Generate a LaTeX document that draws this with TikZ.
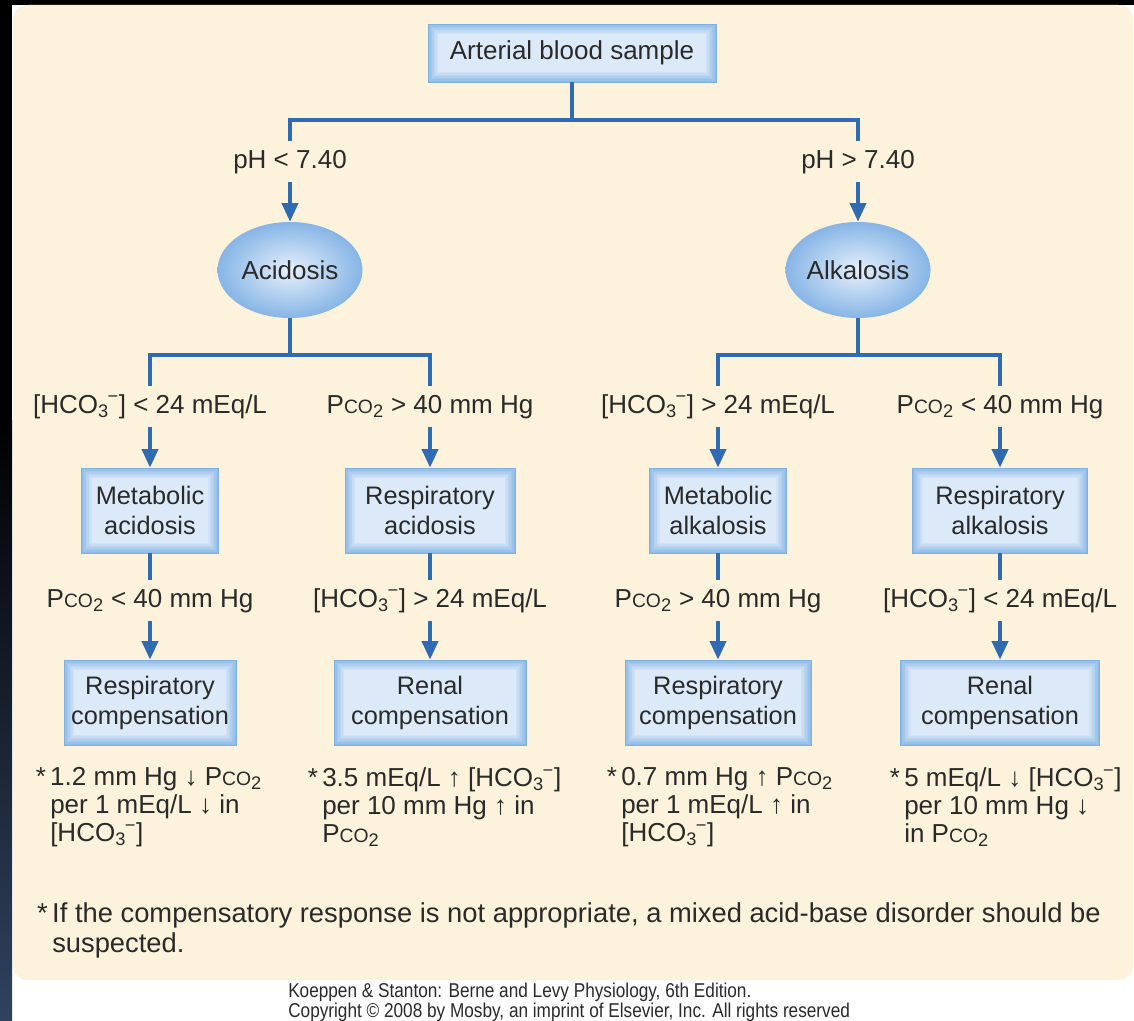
\documentclass[tikz,border=0pt]{standalone}
\usepackage{fontspec}
\setmainfont{Liberation Sans}
\newfontfamily\condfont[FakeStretch=0.86]{Liberation Sans}
\usetikzlibrary{arrows.meta,shapes.geometric}
\definecolor{panel}{HTML}{FDF2DB}
\definecolor{connc}{HTML}{2E6BB3}
\definecolor{boxin}{HTML}{DCE9F8}
\definecolor{boxout}{HTML}{8EBBE9}
\definecolor{txt}{HTML}{2A2A2A}
\definecolor{navy}{HTML}{30425F}
\definecolor{ovalin}{HTML}{E6F0FB}
\definecolor{ovalout}{HTML}{86B5E6}
\newcommand\pcox{P{\fontsize{14.5}{14.5}\selectfont CO}\textsubscript{2}}
\newcommand\hcox{[HCO\textsubscript{3}\kern-0.05em\textsuperscript{−}]}
\begin{document}
\begin{tikzpicture}[x=0.75pt,y=-0.75pt,
  txtfont/.style={font=\fontsize{19.5}{22.5}\selectfont, text=txt},
  lbl/.style={txtfont, inner xsep=2pt, inner ysep=6pt, text height=14pt, text depth=4.5pt},
  abox/.style={rectangle, font=\fontsize{19}{22.5}\selectfont, text=txt, align=center, fill=boxout, draw=boxout!85!connc, line width=0.5pt,
    minimum height=63.75pt, inner sep=2pt,
    path picture={
      \foreach \i in {0,...,7}{
        \pgfmathsetmacro\glowp{\i*100/7}
        \fill[boxin!\glowp!boxout] ([shift={(\i*1.1pt,\i*1.1pt)}]path picture bounding box.south west)
          rectangle ([shift={(-\i*1.1pt,-\i*1.1pt)}]path picture bounding box.north east);
      }
    }},
  oval/.style={ellipse, txtfont, shade, inner color=ovalin, outer color=ovalout,
    minimum width=108.75pt, minimum height=72pt, inner sep=0pt},
  cline/.style={connc, line width=3pt},
  carr/.style={cline, -{Triangle[width=12pt,length=14pt]}},
  note/.style={txtfont, font=\fontsize{19.5}{21}\selectfont, align=left, anchor=north west, inner sep=0pt}
]
\useasboundingbox (0,0) rectangle (1134,1020);
% background
\fill[black] (0,0) rectangle (1134,1020);
\fill[white] (12,5) rectangle (1134,1020);
\shade[top color=black, bottom color=navy] (0,420) rectangle (12,1020);
\fill[panel, rounded corners=11pt] (13,5) rectangle (1133,980);

% top level
\node[abox, font=\fontsize{19.5}{22.5}\selectfont, minimum width=216pt, minimum height=43.5pt] (top) at (572,53) {Arterial blood sample};
\coordinate (j0) at (572,120);
\node[lbl, anchor=base] (ph1) at (290,168) {pH < 7.40};
\node[lbl, anchor=base] (ph2) at (858,168) {pH > 7.40};
\node[oval] (acid) at (290,270) {Acidosis};
\node[oval] (alk) at (858,270) {Alkalosis};
\draw[cline] (top.south) -- (j0);
\draw[cline] (ph1.north) |- (j0) -| (ph2.north);
\draw[carr] (ph1.south) -- (acid.north);
\draw[carr] (ph2.south) -- (alk.north);

% second level
\coordinate (ja) at (290,355);
\coordinate (jb) at (858,355);
\node[lbl, anchor=base] (l1) at (150,413) {\hcox{} < 24 mEq/L};
\node[lbl, anchor=base] (l2) at (430,413) {\pcox{} > 40 mm Hg};
\node[lbl, anchor=base] (l3) at (718,413) {\hcox{} > 24 mEq/L};
\node[lbl, anchor=base] (l4) at (1000,413) {\pcox{} < 40 mm Hg};
\draw[cline] (acid.south) -- (ja);
\draw[cline] (alk.south) -- (jb);
\draw[cline] (l1.north) |- (ja) -| (l2.north);
\draw[cline] (l3.north) |- (jb) -| (l4.north);

\node[abox, minimum width=102.75pt] (b1) at (150,510.5) {Metabolic\\acidosis};
\node[abox, minimum width=127.5pt] (b2) at (430,510.5) {Respiratory\\acidosis};
\node[abox, minimum width=102.75pt] (b3) at (718,510.5) {Metabolic\\alkalosis};
\node[abox, minimum width=131.25pt] (b4) at (1000,510.5) {Respiratory\\alkalosis};
\draw[carr] (l1.south) -- (b1.north);
\draw[carr] (l2.south) -- (b2.north);
\draw[carr] (l3.south) -- (b3.north);
\draw[carr] (l4.south) -- (b4.north);

% third level
\node[lbl, anchor=base] (m1) at (150,607) {\pcox{} < 40 mm Hg};
\node[lbl, anchor=base] (m2) at (430,607) {\hcox{} > 24 mEq/L};
\node[lbl, anchor=base] (m3) at (718,607) {\pcox{} > 40 mm Hg};
\node[lbl, anchor=base] (m4) at (1000,607) {\hcox{} < 24 mEq/L};
\draw[cline] (b1.south) -- (m1.north);
\draw[cline] (b2.south) -- (m2.north);
\draw[cline] (b3.south) -- (m3.north);
\draw[cline] (b4.south) -- (m4.north);

\node[abox, minimum width=129pt] (c1) at (150,702.5) {Respiratory\\compensation};
\node[abox, minimum width=144pt] (c2) at (430,702.5) {Renal\\compensation};
\node[abox, minimum width=139.5pt] (c3) at (718,702.5) {Respiratory\\compensation};
\node[abox, minimum width=149.25pt] (c4) at (1000,702.5) {Renal\\compensation};
\draw[carr] (m1.south) -- (c1.north);
\draw[carr] (m2.south) -- (c2.north);
\draw[carr] (m3.south) -- (c3.north);
\draw[carr] (m4.south) -- (c4.north);

% notes
\node[note] (n1) at (50,767) {\llap{*\,}1.2 mm Hg ↓ \pcox\\per 1 mEq/L ↓ in\\\hcox};
\node[note] (n2) at (322,767) {\llap{*\,}3.5 mEq/L ↑ \hcox\\per 10 mm Hg ↑ in\\\pcox};
\node[note] (n3) at (621,767) {\llap{*\,}0.7 mm Hg ↑ \pcox\\per 1 mEq/L ↑ in\\\hcox};
\node[note] (n4) at (904,767) {\llap{*\,}5 mEq/L ↓ \hcox\\per 10 mm Hg ↓\\in \pcox};

% footnote
\node[txtfont, font=\fontsize{20.5}{22.5}\selectfont, align=left, anchor=north west, inner sep=0pt] (foot) at (52,902)
  {\llap{*\,}If the compensatory response is not appropriate, a mixed acid-base disorder should be\\suspected.};

% credit
\node[font=\condfont\fontsize{15}{13}\selectfont, text=txt, align=left, anchor=north west, inner sep=0pt] (credit) at (288,983)
  {Koeppen \& Stanton: Berne and Levy Physiology, 6th Edition.\\Copyright © 2008 by Mosby, an imprint of Elsevier, Inc. All rights reserved};
\end{tikzpicture}
\end{document}
